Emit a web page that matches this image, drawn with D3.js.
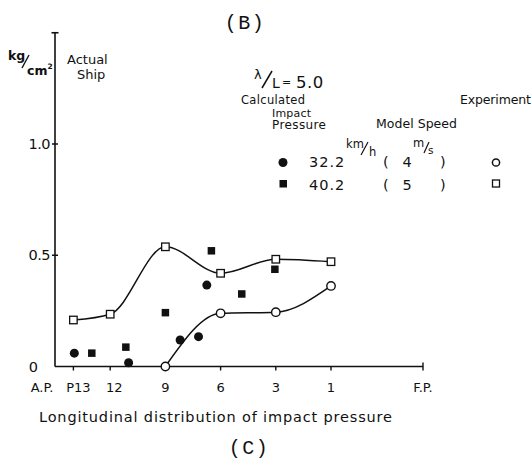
<!DOCTYPE html>
<html>
<head>
<meta charset="utf-8">
<script src="https://cdn.jsdelivr.net/npm/d3@7"></script>
<style>
  html, body { margin: 0; padding: 0; background: #fff; }
  svg { display: block; }
  text { font-family: "DejaVu Sans", "Liberation Sans", sans-serif; fill: #111; }
</style>
</head>
<body>
<svg id="chart" width="532" height="460"></svg>
<script>
// Stations measured from A.P. (ship length = 20 stations)
const xTickStations = [0, 1, 3, 6, 9, 12, 15, 20];
const xTickLabels   = ["A.P.", "P13", "12", "9", "6", "3", "1", "F.P."];
const yTickValues   = [0, 0.5, 1.0];
const yTickLabels   = ["0", "0.5", "1.0"];

// Experiment (open markers) at gauge stations, kg/cm²
const expCircleStations = [6, 9, 12, 15];
const expCircleValues   = [0.0, 0.239, 0.244, 0.362];     // 32.2 km/h
const expSquareStations = [1, 3, 6, 9, 12, 15];
const expSquareValues   = [0.209, 0.235, 0.538, 0.419, 0.482, 0.471]; // 40.2 km/h

// Calculated impact pressure (filled markers)
const calcCircleStations = [1.05, 4.0, 6.8, 7.8, 8.25];
const calcCircleValues   = [0.060, 0.017, 0.119, 0.134, 0.366]; // 32.2 km/h
const calcSquareStations = [2.0, 3.85, 6.0, 8.5, 10.15, 11.95];
const calcSquareValues   = [0.060, 0.087, 0.242, 0.520, 0.326, 0.437]; // 40.2 km/h

// Legend rows: ship speed (km/h) and model speed (m/s)
const legendSpeeds = ["32.2", "40.2"];
const legendMs     = ["4", "5"];

const svg = d3.select("#chart");
const x = d3.scaleLinear().domain([0, 20]).range([55, 423]);
const y = d3.scaleLinear().domain([0, 1.5]).range([366.5, 32.75]);

const ink = "#111";

function slash(x1, y1, x2, y2, w) {
  svg.append("line").attr("x1", x1).attr("y1", y1).attr("x2", x2).attr("y2", y2)
    .attr("stroke", ink).attr("stroke-width", w || 1.3);
}

// Y axis line with cap at the top
svg.append("line").attr("x1", x(0)).attr("x2", x(0))
  .attr("y1", y(0)).attr("y2", y(1.5))
  .attr("stroke", ink).attr("stroke-width", 1.6);
svg.append("line").attr("x1", x(0) - 3.5).attr("x2", x(0) + 3.5)
  .attr("y1", y(1.5)).attr("y2", y(1.5))
  .attr("stroke", ink).attr("stroke-width", 1.6);

// Y ticks (crossing the axis)
svg.selectAll(".ytick").data(yTickValues.slice(1)).enter().append("line")
  .attr("x1", x(0) - 3).attr("x2", x(0) + 3)
  .attr("y1", d => y(d)).attr("y2", d => y(d))
  .attr("stroke", ink).attr("stroke-width", 1.5);
svg.selectAll(".ylabel").data(yTickValues).enter().append("text")
  .attr("x", (d, i) => i === 0 ? 33 : 50)
  .attr("y", d => y(d) + 5)
  .attr("text-anchor", (d, i) => i === 0 ? "middle" : "end")
  .attr("font-size", 14.5)
  .attr("letter-spacing", -0.5)
  .text((d, i) => yTickLabels[i]);

// X axis line
svg.append("line").attr("x1", x(0)).attr("x2", x(20))
  .attr("y1", y(0)).attr("y2", y(0))
  .attr("stroke", ink).attr("stroke-width", 1.6);
svg.selectAll(".xtick").data(xTickStations.slice(1)).enter().append("line")
  .attr("x1", d => x(d)).attr("x2", d => x(d))
  .attr("y1", d => d === 20 ? y(0) - 4 : y(0))
  .attr("y2", y(0) + 4)
  .attr("stroke", ink).attr("stroke-width", 1.4);
svg.selectAll(".xlabel").data(xTickStations).enter().append("text")
  .attr("x", (d, i) => x(d) + (i === 0 ? -13 : i === 1 ? 5 : i === 2 ? 4 : 0))
  .attr("y", 392)
  .attr("text-anchor", "middle")
  .attr("font-size", 13)
  .text((d, i) => xTickLabels[i]);

// Axis title and panel labels
svg.append("text").attr("x", 39).attr("y", 422)
  .attr("font-size", 14.5)
  .attr("textLength", 353).attr("lengthAdjust", "spacing")
  .text("Longitudinal distribution of impact pressure");
svg.append("text").attr("x", 245).attr("y", 29)
  .attr("text-anchor", "middle")
  .style("font-family", "'Liberation Mono', 'DejaVu Sans Mono', monospace")
  .attr("font-size", 20).attr("letter-spacing", 1.5)
  .text("(B)");
svg.append("text").attr("x", 249).attr("y", 454)
  .attr("text-anchor", "middle")
  .style("font-family", "'Liberation Mono', 'DejaVu Sans Mono', monospace")
  .attr("font-size", 20).attr("letter-spacing", 1.5)
  .text("(C)");

// Unit label kg/cm²
svg.append("text").attr("x", 8).attr("y", 60).attr("font-size", 12.5).attr("font-weight", "bold").text("kg");
slash(22, 68, 29, 55, 1.4);
svg.append("text").attr("x", 27).attr("y", 75).attr("font-size", 12.5).attr("font-weight", "bold").text("cm");
svg.append("text").attr("x", 47.5).attr("y", 69).attr("font-size", 7.5).attr("font-weight", "bold").text("2");
svg.append("text").attr("x", 67).attr("y", 64).attr("font-size", 13).text("Actual");
svg.append("text").attr("x", 77).attr("y", 79).attr("font-size", 13).text("Ship");

// Legend header: λ/L = 5.0
svg.append("text").attr("x", 254).attr("y", 79).attr("font-size", 13).text("λ");
slash(262, 88, 272, 71, 1.5);
svg.append("text").attr("x", 272).attr("y", 88).attr("font-size", 14).text("L");
svg.append("text").attr("x", 282).attr("y", 86).attr("font-size", 11).text("=");
svg.append("text").attr("x", 296).attr("y", 88).attr("font-size", 16.5).attr("letter-spacing", 0.5).text("5.0");

svg.append("text").attr("x", 241).attr("y", 103.5).attr("font-size", 11.5).attr("textLength", 64).text("Calculated");
svg.append("text").attr("x", 272).attr("y", 116.5).attr("font-size", 11).attr("textLength", 39).text("Impact");
svg.append("text").attr("x", 272).attr("y", 129).attr("font-size", 12).attr("textLength", 54).text("Pressure");
svg.append("text").attr("x", 376).attr("y", 128).attr("font-size", 12.5).attr("textLength", 81).text("Model Speed");
svg.append("text").attr("x", 460).attr("y", 104).attr("font-size", 12.5).attr("textLength", 71).text("Experiment");

// Units km/h and m/s
svg.append("text").attr("x", 346).attr("y", 148).attr("font-size", 11.5).text("km");
slash(361, 155, 368, 142, 1.2);
svg.append("text").attr("x", 369).attr("y", 156).attr("font-size", 11.5).text("h");
svg.append("text").attr("x", 413).attr("y", 147).attr("font-size", 11.5).text("m");
slash(424, 153, 429, 142, 1.2);
svg.append("text").attr("x", 428).attr("y", 154).attr("font-size", 10.5).text("s");

// Legend rows
const rowY = [167, 190];
legendSpeeds.forEach((s, i) => {
  svg.append("text").attr("x", 309).attr("y", rowY[i]).attr("font-size", 14.5).attr("letter-spacing", 1).text(s);
  svg.append("text").attr("x", 383).attr("y", rowY[i]).attr("font-size", 14.5).text("(");
  svg.append("text").attr("x", 407).attr("y", rowY[i]).attr("text-anchor", "middle").attr("font-size", 14.5).text(legendMs[i]);
  svg.append("text").attr("x", 440).attr("y", rowY[i]).attr("font-size", 14.5).text(")");
});
svg.append("circle").attr("cx", 283).attr("cy", 162.5).attr("r", 4.5).attr("fill", ink);
svg.append("rect").attr("x", 279.5).attr("y", 180).attr("width", 7.5).attr("height", 7.5).attr("fill", ink);
svg.append("circle").attr("cx", 496).attr("cy", 162.5).attr("r", 3.6)
  .attr("fill", "#fff").attr("stroke", ink).attr("stroke-width", 1.5);
svg.append("rect").attr("x", 492.5).attr("y", 180).attr("width", 7).attr("height", 7)
  .attr("fill", "#fff").attr("stroke", ink).attr("stroke-width", 1.3);

// Experiment curves
const line = d3.line().x(d => x(d[0])).y(d => y(d[1])).curve(d3.curveMonotoneX);
const sqPts = expSquareStations.map((s, i) => [s, expSquareValues[i]]);
const ciPts = expCircleStations.map((s, i) => [s, expCircleValues[i]]);
svg.append("path").attr("d", line(sqPts)).attr("fill", "none").attr("stroke", ink).attr("stroke-width", 1.5);
svg.append("path").attr("d", line(ciPts)).attr("fill", "none").attr("stroke", ink).attr("stroke-width", 1.5);

// Calculated markers
svg.selectAll(".calcC").data(calcCircleStations).enter().append("circle")
  .attr("cx", d => x(d)).attr("cy", (d, i) => y(calcCircleValues[i]))
  .attr("r", 4.5).attr("fill", ink);
svg.selectAll(".calcS").data(calcSquareStations).enter().append("rect")
  .attr("x", d => x(d) - 3.75).attr("y", (d, i) => y(calcSquareValues[i]) - 3.75)
  .attr("width", 7.5).attr("height", 7.5).attr("fill", ink);

// Experiment markers
svg.selectAll(".expS").data(sqPts).enter().append("rect")
  .attr("x", d => x(d[0]) - 3.75).attr("y", d => y(d[1]) - 3.75)
  .attr("width", 7.5).attr("height", 7.5)
  .attr("fill", "#fff").attr("stroke", ink).attr("stroke-width", 1.3);
svg.selectAll(".expC").data(ciPts).enter().append("circle")
  .attr("cx", d => x(d[0])).attr("cy", d => y(d[1]))
  .attr("r", 4.2).attr("fill", "#fff").attr("stroke", ink).attr("stroke-width", 1.4);
</script>
</body>
</html>
